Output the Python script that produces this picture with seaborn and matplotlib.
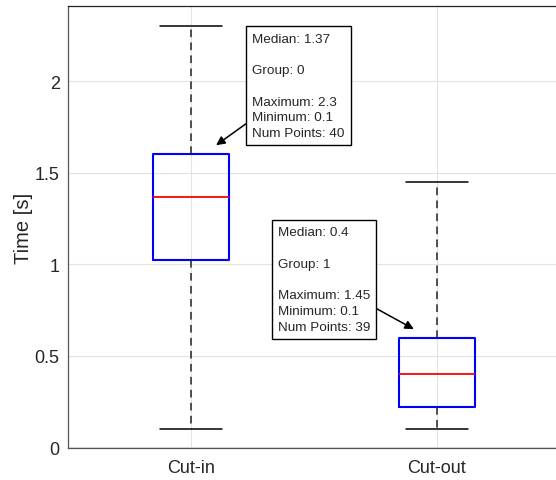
import pandas as pd
import numpy as np
import matplotlib
matplotlib.use('Agg')
import matplotlib.pyplot as plt
import seaborn as sns

# box statistics
groups = ['Cut-in', 'Cut-out']
minimum = [0.1, 0.1]
q1 = [1.025, 0.22]
median = [1.37, 0.4]
q3 = [1.6, 0.6]
maximum = [2.3, 1.45]
num_points = [40, 39]
ytick_vals = [0, 0.5, 1, 1.5, 2]
ytick_labels = ['0', '0.5', '1', '1.5', '2']

# five values per group -> the quartiles land exactly on q1 / median / q3
rows = []
for i, g in enumerate(groups):
    for v in [minimum[i], q1[i], median[i], q3[i], maximum[i]]:
        rows.append({'Group': g, 'Time': v})
df = pd.DataFrame(rows)

sns.set_style('white')
plt.rcParams['font.family'] = ['Liberation Sans', 'DejaVu Sans']

fig = plt.figure(figsize=(5.56, 4.81), dpi=100)
ax = fig.add_axes([68 / 556, 32 / 481, 492 / 556, 442 / 481])

sns.boxplot(data=df, x='Group', y='Time', ax=ax, whis=np.inf, width=0.31,
            fill=False, showfliers=False,
            boxprops=dict(color='#0000ff', linewidth=1.5),
            medianprops=dict(color='#ff0000', linewidth=1.3),
            whiskerprops=dict(color='#222222', linestyle=(0, (5, 3.5)), linewidth=1.1),
            capprops=dict(color='black', linewidth=1.1))

# shorter caps, as in the reference
for line in ax.lines:
    xd = np.asarray(line.get_xdata(), dtype=float)
    yd = np.asarray(line.get_ydata(), dtype=float)
    if len(xd) == 2 and yd[0] == yd[1] and line.get_color() == 'black':
        c = xd.mean()
        line.set_xdata([c - 0.125, c + 0.125])

ax.set_xlim(-0.5, 1.5)
ax.set_ylim(-0.003, 2.41)
ax.set_yticks(ytick_vals)
ax.set_yticklabels(ytick_labels)
ax.set_xlabel('')
ax.set_ylabel('Time [s]', fontsize=14.5, color='#262626', labelpad=1)
ax.grid(True, color='#e3e3e3', linewidth=0.8)
ax.set_axisbelow(True)
ax.tick_params(direction='in', length=4, labelsize=13, colors='#262626', pad=6)
ax.tick_params(axis='x', pad=8)
for s in ['left', 'bottom', 'top']:
    ax.spines[s].set_visible(True)
    ax.spines[s].set_linewidth(0.9)
ax.spines['left'].set_color('#555555')
ax.spines['bottom'].set_color('#555555')
ax.spines['top'].set_color('#222222')
ax.spines['right'].set_visible(False)

# data tips
tips = [
    (0, (0.102, 1.65), (0.250, 2.265)),
    (1, (0.906, 0.646), (0.352, 1.207)),
]
for i, xy, xytext in tips:
    txt = (f'Median: {median[i]:g}\n\nGroup: {i}\n\n'
           f'Maximum: {maximum[i]:g}\nMinimum: {minimum[i]:g}\nNum Points: {num_points[i]}')
    ax.annotate(txt, xy=xy, xytext=xytext, ha='left', va='top', fontsize=9.7,
                linespacing=1.42,
                bbox=dict(boxstyle='square,pad=0.45', fc='white', ec='black', lw=1),
                arrowprops=dict(arrowstyle='-|>', color='black', lw=1.1,
                                mutation_scale=13, shrinkA=0, shrinkB=0))

plt.savefig('out.png', dpi=100)
